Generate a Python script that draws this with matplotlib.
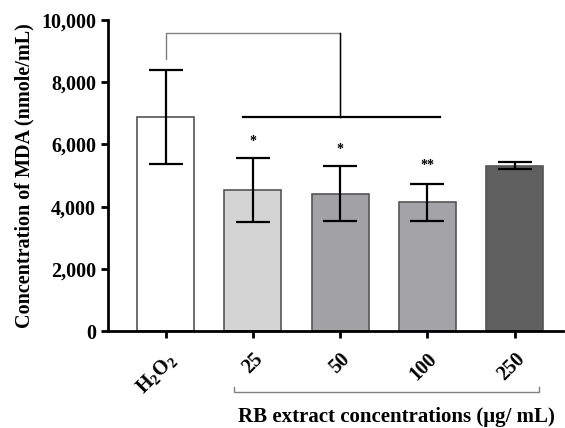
import matplotlib
matplotlib.use("Agg")
import matplotlib.pyplot as plt
from matplotlib.ticker import FuncFormatter

plt.rcParams["font.family"] = ["Liberation Serif", "DejaVu Serif"]
plt.rcParams["font.weight"] = "bold"
plt.rcParams["mathtext.fontset"] = "custom"
plt.rcParams["mathtext.rm"] = "Liberation Serif"
plt.rcParams["mathtext.bf"] = "Liberation Serif:bold"

# data
groups = ["$\\mathbf{H_2O_2}$", "25", "50", "100", "250"]
mda_mean = [6880, 4530, 4420, 4140, 5320]
mda_err = [1500, 1030, 880, 600, 110]
bar_colors = ["#ffffff", "#d4d4d4", "#a3a3a5", "#a4a3a8", "#606060"]
stars = ["", "*", "*", "**", ""]
star_y = [0, 5900, 5620, 5100, 0]

fig = plt.figure(figsize=(5.65, 4.28), dpi=100)
ax = fig.add_axes([0.191, 0.2266, 0.805, 0.7264])

x = list(range(len(groups)))
ax.bar(x, mda_mean, width=0.65, color=bar_colors, edgecolor="#555555",
       linewidth=1.2, zorder=2)
ax.errorbar(x, mda_mean, yerr=mda_err, fmt="none", ecolor="black",
            elinewidth=1.6, capsize=12, capthick=1.6, zorder=3)

for xi, s, sy in zip(x, stars, star_y):
    if s:
        ax.text(xi, sy, s, ha="center", va="bottom", fontsize=10)

# significance brackets
ax.plot([0, 0, 2, 2], [8740, 9590, 9590, 6870], color="#808080", lw=1.0,
        zorder=1)
ax.plot([2, 2], [9590, 6870], color="black", lw=1.0, zorder=1)
ax.plot([0.89, 3.14], [6870, 6870], color="black", lw=1.6, zorder=1)

ax.set_xlim(-0.66, 4.55)
ax.set_ylim(0, 10000)
ax.set_yticks([0, 2000, 4000, 6000, 8000, 10000])
ax.yaxis.set_major_formatter(FuncFormatter(lambda v, p: f"{int(v):,}"))
ax.set_xticks(x)
ax.set_xticklabels(groups, rotation=45, ha="right", rotation_mode="anchor",
                   fontsize=14.5)
for lab in ax.get_yticklabels():
    lab.set_fontsize(14.5)
ax.set_ylabel("Concentration of MDA (nmole/mL)", fontsize=14.5,
              fontweight="bold", labelpad=5)

for side in ["top", "right"]:
    ax.spines[side].set_visible(False)
for side in ["left", "bottom"]:
    ax.spines[side].set_linewidth(2)
ax.tick_params(width=2, length=5, direction="out")
ax.tick_params(axis="x", pad=8)

# group bracket under the concentration labels
trans = ax.get_xaxis_transform()
ax.plot([0.78, 0.78, 4.28, 4.28], [-0.18, -0.195, -0.195, -0.18],
        color="#808080", lw=1.0, transform=trans, clip_on=False)
ax.text(2.65, -0.278, "RB extract concentrations (\u03bcg/ mL)",
        transform=trans, ha="center", va="center", fontsize=15,
        fontweight="bold")

fig.savefig("out.png", dpi=100)
